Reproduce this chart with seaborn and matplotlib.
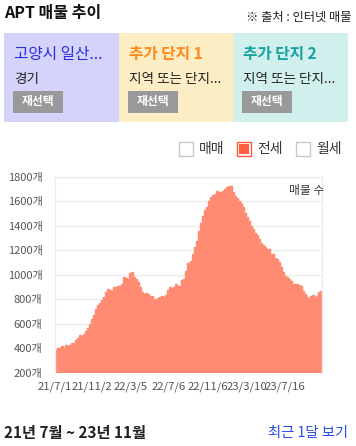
import numpy as np
import pandas as pd
import matplotlib
matplotlib.use('Agg')
import matplotlib.pyplot as plt
from matplotlib.patches import Rectangle
import seaborn as sns

# jeonse listing counts (roughly one bar per ~week)
listing_counts = [388, 401, 401, 418, 405, 426, 418, 428, 442, 446,
                  467, 486, 505, 497, 516, 538, 568, 598, 638, 671,
                  718, 752, 771, 793, 815, 858, 880, 874, 864, 900,
                  900, 908, 908, 921, 979, 975, 965, 1016, 1022, 979,
                  965, 938, 897, 856, 842, 850, 846, 830, 826, 801,
                  797, 808, 820, 828, 817, 833, 872, 898, 888, 898,
                  921, 907, 904, 957, 968, 1030, 1098, 1110, 1170, 1225,
                  1275, 1355, 1420, 1480, 1525, 1555, 1600, 1635, 1651, 1662,
                  1680, 1672, 1672, 1680, 1700, 1716, 1727, 1725, 1675, 1645,
                  1625, 1605, 1585, 1550, 1505, 1470, 1435, 1400, 1375, 1340,
                  1327, 1290, 1262, 1240, 1229, 1212, 1210, 1169, 1169, 1138,
                  1125, 1100, 1060, 1020, 989, 978, 962, 949, 927, 927,
                  921, 918, 905, 870, 846, 815, 801, 828, 834, 822,
                  828, 861, 864]
date_labels = ['21/7/1', '21/11/2', '22/3/5', '22/7/6', '22/11/6', '23/3/10', '23/7/16']
date_ticks = [-0.5, 18, 37, 56, 75.5, 95, 114]
y_ticks = [200, 400, 600, 800, 1000, 1200, 1400, 1600, 1800]

panel_titles = ['고양시 일산...', '추가 단지 1', '추가 단지 2']
panel_subs = ['경기', '지역 또는 단지...', '지역 또는 단지...']
legend_items = ['매매', '전세', '월세']

df = pd.DataFrame({'idx': np.arange(len(listing_counts)), 'count': listing_counts})

sns.set_style('white')
plt.rcParams['font.family'] = ['Noto Sans CJK KR', 'DejaVu Sans']

W, H = 356, 446
fig = plt.figure(figsize=(W / 100, H / 100), dpi=100)


def px_rect(x, y, w, h, **kw):
    fig.add_artist(Rectangle((x / W, 1 - (y + h) / H), w / W, h / H,
                             transform=fig.transFigure, **kw))


def px_text(x, y, s, **kw):
    fig.text(x / W, 1 - y / H, s, va='center', **kw)


# header
px_text(4, 13, 'APT 매물 추이', fontsize=11.5, fontweight='bold', color='#111111')
px_text(352, 17, '※ 출처 : 인터넷 매물', fontsize=8.8, color='#222222', ha='right')

# selection panels
panel_bg = ['#d4d4fa', '#fdedc4', '#d1efed']
title_col = ['#2a2ae6', '#ff8a1c', '#17a1a0']
title_wt = ['normal', 'bold', 'bold']
for k in range(3):
    x0 = 4 + k * 114.7
    px_rect(x0, 33, 115, 89, facecolor=panel_bg[k], edgecolor='none')
    px_text(x0 + 10, 54, panel_titles[k], fontsize=11.3, color=title_col[k], fontweight=title_wt[k])
    px_text(x0 + 10, 79, panel_subs[k], fontsize=9.8, color='#222222')
    px_rect(x0 + 9, 91, 50, 22, facecolor='#999999', edgecolor='none')
    px_text(x0 + 34, 102, '재선택', fontsize=8.5, color='white', fontweight='bold', ha='center')

# legend checkboxes
box_x = [179, 237, 296]
for k in range(3):
    if k == 1:
        px_rect(box_x[k], 142, 14, 14, facecolor='white', edgecolor='#ff5a3c', linewidth=1)
        px_rect(box_x[k] + 2, 144, 10, 10, facecolor='#ff5f40', edgecolor='none')
    else:
        px_rect(box_x[k], 142, 14, 14, facecolor='white', edgecolor='#c4c8d0', linewidth=1)
    px_text(box_x[k] + 20, 149, legend_items[k], fontsize=10, color='#333333')

# chart
ax = fig.add_axes([55 / W, (H - 372.7) / H, 267 / W, 196 / H])
sns.barplot(data=df, x='idx', y='count', color='#ff8c72', saturation=1,
            width=1.0, linewidth=1.0, edgecolor='#ff8c72', ax=ax)
ax.set_xlim(-0.5, len(listing_counts) - 0.5)
ax.set_ylim(200, 1800)
ax.set_yticks(y_ticks)
ax.set_yticklabels([f'{v}개' for v in y_ticks])
ax.set_xticks(date_ticks)
ax.set_xticklabels(date_labels)
ax.set_xlabel('')
ax.set_ylabel('')
ax.tick_params(axis='y', length=0, pad=9, labelsize=8, labelcolor='#555555')
ax.tick_params(axis='x', length=0, pad=6, labelsize=8.2, labelcolor='#555555')
ax.yaxis.grid(True, color='#ececec', linewidth=1)
ax.set_axisbelow(True)
for side in ['top', 'right', 'left']:
    ax.spines[side].set_color('#ececec')
    ax.spines[side].set_linewidth(1)
ax.spines['bottom'].set_visible(False)
ax.text(1.01, 0.93, '매물 수', transform=ax.transAxes, ha='right', va='center',
        fontsize=8.5, color='#333333')

# footer
px_text(4, 433, '21년 7월 ~ 23년 11월', fontsize=11, color='#222222', fontweight='bold')
px_text(348, 433, '최근 1달 보기', fontsize=10.3, color='#2a4de0', ha='right')

plt.savefig('out.png', dpi=100)
